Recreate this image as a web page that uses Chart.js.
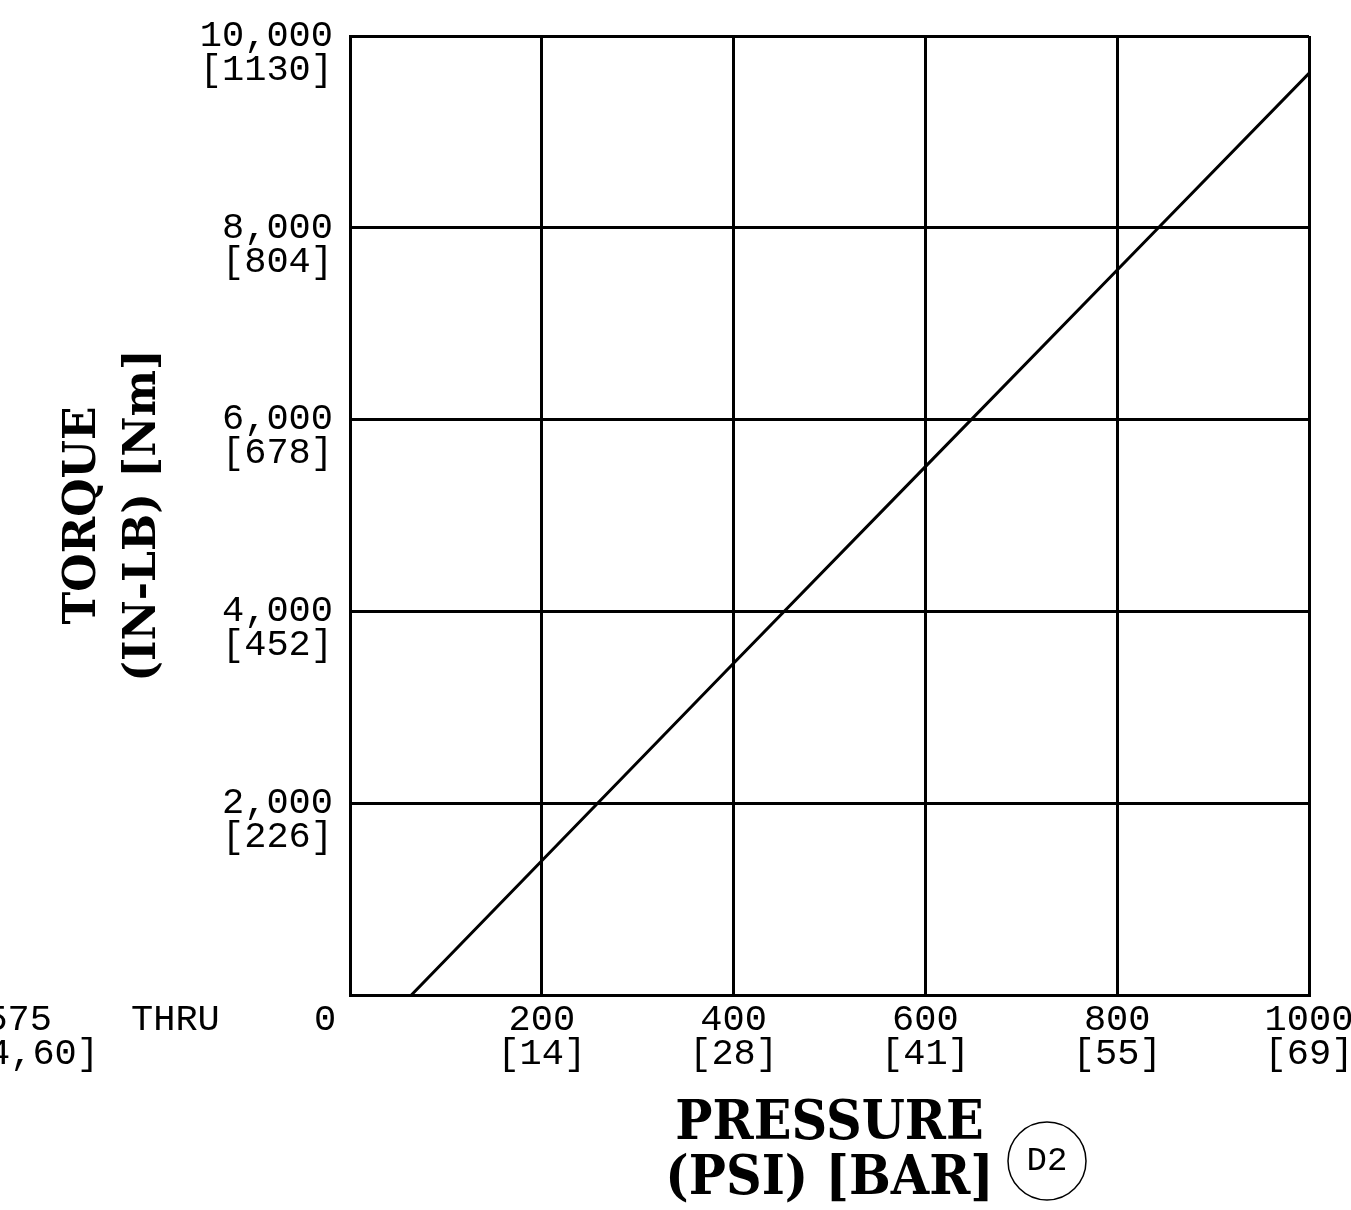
<!DOCTYPE html>
<html>
<head>
<meta charset="utf-8">
<title>Torque vs Pressure</title>
<script src="https://cdn.jsdelivr.net/npm/chart.js@4/dist/chart.umd.min.js"></script>
<style>
  html, body { margin: 0; padding: 0; background: #fff; }
  canvas { display: block; }
</style>
</head>
<body>
<canvas id="torqueChart" width="1351" height="1210"></canvas>
<script>
// datos
const pressurePsi = [64, 200, 400, 600, 800, 1000];
const torqueInLb = [0, 1400, 3460, 5510, 7560, 9610];

const pressureTicks = [200, 400, 600, 800, 1000];
const pressureLabels = ['200', '400', '600', '800', '1000'];
const barLabels = ['[14]', '[28]', '[41]', '[55]', '[69]'];

const torqueTicks = [2000, 4000, 6000, 8000, 10000];
const torqueLabels = ['2,000', '4,000', '6,000', '8,000', '10,000'];
const nmLabels = ['[226]', '[452]', '[678]', '[804]', '[1130]'];

const tickFont = { family: "'Liberation Mono', 'DejaVu Sans Mono', monospace", size: 37, lineHeight: '34px' };
const titleFamily = "'DejaVu Serif', 'Liberation Serif', serif";
const condFamily = "'DejaVu Serif Condensed', 'DejaVu Serif', serif";

// textos sueltos, el circulo D2 y el cero compartido
const extrasPlugin = {
    id: 'extras',
    afterDraw(chart) {
        const ctx = chart.ctx;
        const xs = chart.scales.x;
        ctx.save();
        ctx.fillStyle = '#000';
        ctx.font = "37px 'Liberation Mono', 'DejaVu Sans Mono', monospace";
        ctx.textBaseline = 'middle';
        ctx.textAlign = 'center';
        ctx.fillText('0', xs.getPixelForValue(0) - 25, 1020);

        ctx.textAlign = 'right';
        ctx.fillText('0.575', 52, 1020);
        ctx.fillText('[14,60]', 99, 1054);
        ctx.textAlign = 'left';
        ctx.fillText('THRU', 131, 1020);

        ctx.beginPath();
        ctx.arc(1047, 1161, 39, 0, Math.PI * 2);
        ctx.lineWidth = 1.5;
        ctx.strokeStyle = '#000';
        ctx.stroke();
        ctx.font = "34px 'Liberation Mono', 'DejaVu Sans Mono', monospace";
        ctx.textAlign = 'center';
        ctx.fillText('D2', 1047, 1161);
        ctx.restore();
    }
};

const ctx = document.getElementById('torqueChart').getContext('2d');

const chart = new Chart(ctx, {
    type: 'scatter',
    data: {
        datasets: [{
            label: 'Torque',
            data: pressurePsi.map((p, i) => ({ x: p, y: torqueInLb[i] })),
            showLine: true,
            borderColor: '#000',
            borderWidth: 3,
            pointRadius: 0,
            tension: 0
        }]
    },
    options: {
        responsive: false,
        animation: false,
        layout: { padding: { top: 36, right: 42, bottom: 0, left: 0 } },
        plugins: {
            legend: { display: false },
            tooltip: { enabled: false }
        },
        scales: {
            x: {
                type: 'linear',
                min: 0,
                max: 1000,
                afterBuildTicks: (scale) => {
                    scale.ticks = [0].concat(pressureTicks).map(v => ({ value: v }));
                },
                afterFit: (scale) => {
                    scale.height = 215;
                    scale.paddingLeft = 0;
                    scale.paddingRight = 0;
                },
                grid: { color: '#000', lineWidth: 3, drawTicks: false },
                border: { color: '#000', width: 3 },
                ticks: {
                    color: '#000',
                    font: tickFont,
                    padding: 8,
                    maxRotation: 0,
                    autoSkip: false,
                    callback: (v) => {
                        const i = pressureTicks.indexOf(v);
                        return i < 0 ? '' : [pressureLabels[i], barLabels[i]];
                    }
                },
                title: {
                    display: true,
                    text: ['PRESSURE', '(PSI) [BAR]'],
                    color: '#000',
                    font: { family: condFamily, weight: 'bold', size: 55, lineHeight: '55px' },
                    padding: { top: 0, bottom: 3 }
                }
            },
            y: {
                min: 0,
                max: 10000,
                afterBuildTicks: (scale) => {
                    scale.ticks = [0].concat(torqueTicks).map(v => ({ value: v }));
                },
                afterFit: (scale) => {
                    scale.width = 350;
                    scale.paddingTop = 0;
                    scale.paddingBottom = 0;
                },
                grid: { color: '#000', lineWidth: 3, drawTicks: false },
                border: { color: '#000', width: 3 },
                ticks: {
                    color: '#000',
                    font: tickFont,
                    padding: 17,
                    labelOffset: 17,
                    autoSkip: false,
                    callback: (v) => {
                        const i = torqueTicks.indexOf(v);
                        return i < 0 ? '' : [torqueLabels[i], nmLabels[i]];
                    }
                },
                title: {
                    display: true,
                    text: ['TORQUE', '(IN-LB) [Nm]'],
                    color: '#000',
                    font: { family: titleFamily, weight: 'bold', size: 44, lineHeight: '60px' },
                    padding: { top: 54, bottom: 0 }
                }
            }
        }
    },
    plugins: [extrasPlugin]
});
</script>
</body>
</html>
